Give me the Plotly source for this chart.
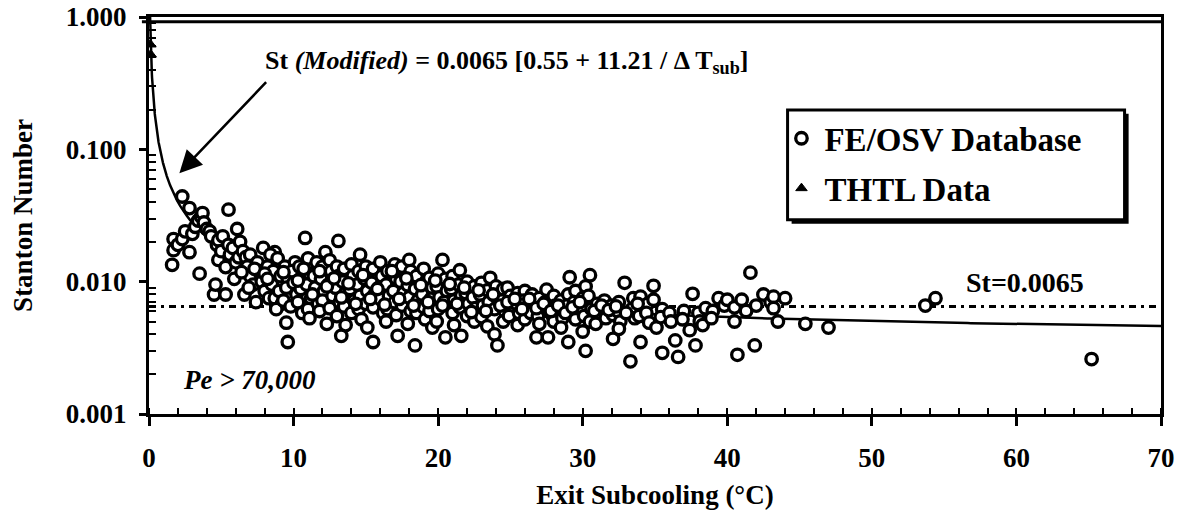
import numpy as np
import plotly.graph_objects as go

# ---------------- data ----------------
# FE/OSV Database (Exit subcooling in degC, Stanton number)
fe_x_a = [
    1.6, 1.7, 1.7, 2.0, 2.3, 2.3, 2.5, 2.8, 2.8, 3.0,
    3.2, 3.4, 3.5, 3.6, 3.7, 3.8, 4.0, 4.2, 4.3, 4.5,
    4.6, 4.7, 4.8, 4.8, 5.0, 5.1, 5.3, 5.3, 5.5, 5.5,
    5.6, 5.8, 6.0, 6.1, 6.2, 6.3, 6.5, 6.6, 6.7, 6.8,
    7.0, 7.0, 7.2, 7.4, 7.5, 7.6, 7.8, 7.9, 8.0, 8.2,
    8.3, 8.7,
]
fe_y_a = [
    0.0134, 0.021, 0.0173, 0.019, 0.044, 0.021, 0.024, 0.036, 0.0167, 0.023,
    0.026, 0.029, 0.0115, 0.031, 0.033, 0.028, 0.025, 0.024, 0.022, 0.0080,
    0.0095, 0.019, 0.0206, 0.0146, 0.017, 0.022, 0.0129, 0.0080, 0.035, 0.019,
    0.016, 0.018, 0.014, 0.025, 0.0153, 0.020, 0.017, 0.0080, 0.0153, 0.013,
    0.016, 0.011, 0.0095, 0.0070, 0.014, 0.012, 0.010, 0.018, 0.0085, 0.013,
    0.0075, 0.0167,
]

fe_x_b = [
    8.4, 8.6, 8.5, 8.7,
    8.9, 9.1, 9.0, 9.2, 8.8,
    9.4, 9.6, 9.5, 9.3, 9.5, 9.6,
    10.1, 9.9, 10.0, 10.2, 9.8,
    10.4, 10.6, 10.5, 10.3, 10.6, 10.8,
    11.0, 11.1, 10.9, 11.2, 11.0, 11.1,
    11.6, 11.4, 11.5, 11.7,
    12.0, 11.9, 12.1, 12.0, 11.8, 12.2, 12.3,
    12.5, 12.6, 12.4, 12.7, 12.5,
    13.0, 13.1, 12.9, 13.2, 13.0, 13.1, 13.3,
    13.5, 13.4, 13.6, 13.5, 13.6,
    14.0, 14.1, 13.9, 14.2, 14.0,
]
fe_y_b = [
    0.016, 0.012, 0.0095, 0.0075,
    0.015, 0.011, 0.0085, 0.0068, 0.0062,
    0.013, 0.0105, 0.0090, 0.0072, 0.0049, 0.0035,
    0.014, 0.012, 0.0098, 0.0080, 0.0065,
    0.013, 0.011, 0.0088, 0.0070, 0.0058, 0.0214,
    0.015, 0.0115, 0.0095, 0.0075, 0.0062, 0.0053,
    0.014, 0.011, 0.0090, 0.0068,
    0.013, 0.0105, 0.0085, 0.0072, 0.0060, 0.0167, 0.0048,
    0.0145, 0.012, 0.0095, 0.0078, 0.0063,
    0.013, 0.011, 0.0090, 0.0070, 0.0055, 0.0203, 0.0039,
    0.0125, 0.0100, 0.0082, 0.0065, 0.0047,
    0.0135, 0.011, 0.0088, 0.0072, 0.0058,
]

fe_x_c = [
    14.6, 14.5, 14.4, 14.6, 14.5, 14.7,
    15.0, 14.9, 15.1, 15.0, 15.1,
    15.5, 15.4, 15.6, 15.5, 15.5,
    16.0, 16.1, 15.9, 16.0, 16.2,
    16.5, 16.4, 16.6, 16.5, 16.4,
    17.0, 17.1, 16.9, 17.0, 17.1,
    17.5, 17.4, 17.6, 17.5, 17.2,
    18.0, 18.1, 17.9, 18.0, 18.1, 17.9,
    18.5, 18.4, 18.6, 18.5, 18.4,
    19.0, 19.1, 18.9, 19.0, 19.1,
    19.4, 19.6, 19.5, 19.4, 19.6,
    20.0, 19.9, 20.1, 20.0, 19.9,
    20.3, 20.5, 20.6, 20.4, 20.5,
    21.0, 20.9, 21.1, 21.0, 21.1,
    21.5, 21.4, 21.6, 21.5, 21.6,
    22.0, 21.9, 22.1, 22.0,
    22.5, 22.4, 22.6, 22.5,
    23.0, 22.9, 23.1, 23.0,
    23.6, 23.4, 23.5, 23.4,
    24.0, 24.1, 23.9, 23.9, 24.1,
    24.5, 24.4, 24.6, 24.5,
    24.8, 25.0, 25.1, 24.9,
    25.5, 25.4, 25.6, 25.5,
    26.0, 25.9, 26.1, 26.0,
]
fe_y_c = [
    0.016, 0.012, 0.0095, 0.0078, 0.0062, 0.0052,
    0.013, 0.0105, 0.0085, 0.0068, 0.0045,
    0.0125, 0.0098, 0.0080, 0.0064, 0.0035,
    0.014, 0.011, 0.0090, 0.0074, 0.0058,
    0.012, 0.0095, 0.0078, 0.0062, 0.0050,
    0.0135, 0.0105, 0.0085, 0.0070, 0.0056,
    0.013, 0.0100, 0.0082, 0.0066, 0.0039,
    0.0146, 0.012, 0.0094, 0.0076, 0.0060, 0.0048,
    0.011, 0.0088, 0.0072, 0.0058, 0.0033,
    0.0125, 0.0098, 0.0080, 0.0064, 0.0052,
    0.0107, 0.0090, 0.0074, 0.0060, 0.0045,
    0.0115, 0.0092, 0.0076, 0.0062, 0.0050,
    0.0146, 0.0105, 0.0085, 0.0070, 0.0038,
    0.011, 0.0088, 0.0072, 0.0058, 0.0047,
    0.0122, 0.0095, 0.0078, 0.0064, 0.0039,
    0.0100, 0.0082, 0.0068, 0.0055,
    0.0092, 0.0076, 0.0063, 0.0050,
    0.0098, 0.0080, 0.0066, 0.0054,
    0.0107, 0.0086, 0.0070, 0.0046,
    0.0092, 0.0075, 0.0062, 0.0040, 0.0033,
    0.0088, 0.0072, 0.0060, 0.0050,
    0.0090, 0.0078, 0.0065, 0.0055,
    0.0082, 0.0068, 0.0058, 0.0047,
    0.0085, 0.0072, 0.0062, 0.0052,
]

fe_x_d = [
    26.5, 26.6, 26.4, 26.8,
    27.0, 27.1, 26.9, 27.0,
    27.5, 27.4, 27.6, 27.6,
    28.0, 28.1, 27.9, 28.0,
    28.5, 28.4, 28.6, 28.5,
    29.1, 29.0, 28.9, 29.0,
    29.5, 29.4, 29.6, 29.5,
    30.2, 30.0, 29.9, 30.1, 30.0, 30.2,
    30.5, 30.4, 30.6, 30.5,
    31.0, 31.1, 30.9,
    31.5, 31.4, 31.6,
    32.0, 32.1, 32.1,
    32.5, 32.4, 32.6, 32.5,
    32.9, 33.3,
    33.5, 33.4, 33.6,
    34.0, 34.1, 33.9, 34.0,
    34.5, 34.4, 34.6,
    34.9, 34.9, 35.1,
    35.5, 35.4, 35.5,
    36.0, 36.1, 36.4, 36.6,
    37.0, 36.9, 37.4, 37.6, 37.8,
    38.0, 38.1, 38.3, 38.5,
    39.0, 38.9, 39.4, 39.8,
]
fe_y_d = [
    0.0080, 0.0068, 0.0058, 0.0038,
    0.0075, 0.0064, 0.0055, 0.0048,
    0.0087, 0.0070, 0.0060, 0.0038,
    0.0078, 0.0066, 0.0056, 0.0050,
    0.0072, 0.0062, 0.0053, 0.0045,
    0.0108, 0.0080, 0.0066, 0.0035,
    0.0085, 0.0070, 0.0060, 0.0052,
    0.0092, 0.0075, 0.0064, 0.0055, 0.0042, 0.0030,
    0.0112, 0.0078, 0.0062, 0.0050,
    0.0068, 0.0058, 0.0048,
    0.0072, 0.0062, 0.0053,
    0.0066, 0.0056, 0.0037,
    0.0070, 0.0060, 0.0050, 0.0044,
    0.0098, 0.0025,
    0.0075, 0.0062, 0.0053,
    0.0077, 0.0064, 0.0055, 0.0035,
    0.0068, 0.0058, 0.0049,
    0.0093, 0.0073, 0.0045,
    0.0062, 0.0054, 0.0029,
    0.0058, 0.0050, 0.0036, 0.0027,
    0.0060, 0.0052, 0.0043, 0.0081, 0.0033,
    0.0058, 0.0050, 0.0047, 0.0063,
    0.0060, 0.0053, 0.0075, 0.0066,
]

fe_x_e = [40.0, 40.5, 40.5, 40.7, 41.0, 41.3, 41.6, 41.9, 42.0, 42.5,
          43.0, 43.2, 43.2, 43.5, 44.0, 45.4, 47.0, 53.7, 54.4, 65.2]
fe_y_e = [0.0073, 0.0064, 0.0050, 0.0028, 0.0073, 0.0060, 0.0117, 0.0033, 0.0066, 0.0080,
          0.0070, 0.0077, 0.0063, 0.0050, 0.0075, 0.0048, 0.0045, 0.0066, 0.0075, 0.0026]

# extra points inside the dense band
fe_x_f = [
    5.9, 6.4, 6.9, 7.3, 8.0, 8.2, 9.3, 10.3, 10.7, 11.3,
    11.8, 12.3, 12.8, 13.3, 13.8, 14.3, 14.8, 15.3, 15.8, 16.3,
    16.8, 17.3, 17.8, 18.3, 18.8, 19.3, 19.8, 20.3, 20.8, 21.3,
    21.8, 22.3, 22.8, 23.3, 23.8, 24.3, 24.8, 25.3, 25.8, 26.3,
    26.8, 27.3, 27.8, 28.3, 28.8, 29.3, 29.8, 30.8, 31.3, 31.8,
    32.3, 33.0, 33.8,
]
fe_y_f = [
    0.0105, 0.0118, 0.0090, 0.0125, 0.0115, 0.0105, 0.0118, 0.0102, 0.0125, 0.0080,
    0.0120, 0.0092, 0.0106, 0.0076, 0.0097, 0.0068, 0.0112, 0.0074, 0.0088, 0.0067,
    0.0120, 0.0074, 0.0106, 0.0066, 0.0094, 0.0070, 0.0102, 0.0066, 0.0096, 0.0068,
    0.0090, 0.0059, 0.0086, 0.0060, 0.0080, 0.0066, 0.0070, 0.0074, 0.0062, 0.0074,
    0.0063, 0.0068, 0.0060, 0.0066, 0.0058, 0.0064, 0.0070, 0.0060, 0.0066, 0.0061,
    0.0065, 0.0058, 0.0068,
]

# THTL Data
thtl_x = [0.10, 0.12]
thtl_y = [0.62, 0.52]

# Correlation: St(Modified) = 0.0065 [0.55 + 11.21 / dTsub]
corr_c = 0.0065
corr_a = 0.55
corr_b = 11.21
st_const = 0.0065

x_tick_vals = [0, 10, 20, 30, 40, 50, 60, 70]
y_tick_vals = [0.001, 0.01, 0.1, 1.0]
y_tick_text = ["0.001", "0.010", "0.100", "1.000"]

# ---------------- figure ----------------
FONT = "Liberation Serif"
fe_x = fe_x_a + fe_x_b + fe_x_c + fe_x_d + fe_x_e + fe_x_f
fe_y = fe_y_a + fe_y_b + fe_y_c + fe_y_d + fe_y_e + fe_y_f
assert len(fe_x) == len(fe_y)

curve_x = np.concatenate([np.linspace(0.07, 1.0, 80), np.linspace(1.0, 70.0, 300)])
curve_y = corr_c * (corr_a + corr_b / curve_x)

fig = go.Figure()
fig.add_trace(go.Scatter(x=[0, 70], y=[st_const, st_const], mode="lines",
                         line=dict(color="black", width=3, dash="7px,5px,3px,5px"),
                         showlegend=False, hoverinfo="skip"))
fig.add_trace(go.Scatter(x=curve_x, y=curve_y, mode="lines",
                         line=dict(color="black", width=2.5),
                         showlegend=False, hoverinfo="skip"))
fig.add_trace(go.Scatter(x=fe_x, y=fe_y, mode="markers", name="FE/OSV Database",
                         legendgroup="a",
                         marker=dict(symbol="circle", size=11.5, color="white",
                                     line=dict(color="black", width=3.3))))
fig.add_trace(go.Scatter(x=thtl_x, y=thtl_y, mode="markers", name="THTL Data",
                         legendgroup="b",
                         marker=dict(symbol="triangle-up", size=10, color="black",
                                     line=dict(color="black", width=1))))

tickfont = dict(family=FONT, size=27, color="black", weight="bold")

fig.update_xaxes(range=[0, 70], tickvals=x_tick_vals, ticks="outside", ticklen=9,
                 tickwidth=2.5, tickcolor="black", showline=True, linewidth=3,
                 linecolor="black", mirror=True, showgrid=False, zeroline=False,
                 tickfont=tickfont, ticklabelstandoff=9, automargin=False,
                 ticklabeloverflow="allow",
                 minor=dict(dtick=2, ticks="inside", ticklen=6, tickwidth=2,
                            tickcolor="black", showgrid=False),
                 title=dict(text="<b>Exit Subcooling (°C)</b>",
                            font=dict(family=FONT, size=27, color="black"),
                            standoff=13))

minor_y = [m * d for d in [0.001, 0.01, 0.1] for m in range(2, 10)]
fig.update_yaxes(type="log", range=[-3, 0], tickvals=y_tick_vals, ticktext=y_tick_text,
                 ticks="outside", ticklen=7, tickwidth=2.5, tickcolor="black",
                 showline=True, linewidth=3, linecolor="black", mirror=True,
                 showgrid=False, zeroline=False, tickfont=tickfont, ticklabelstandoff=7,
                 automargin=False, ticklabeloverflow="allow",
                 minor=dict(tickvals=minor_y, ticks="inside", ticklen=7, tickwidth=2,
                            tickcolor="black", showgrid=False),
                 title=dict(text="<b>Stanton Number</b>",
                            font=dict(family=FONT, size=27, color="black"),
                            standoff=32))

# arrow and texts
arrow_head_x, arrow_head_y = 2.1, 0.066
arrow_tail_x, arrow_tail_y = 8.2, 0.33
fig.add_annotation(x=arrow_head_x, y=np.log10(arrow_head_y), ax=arrow_tail_x,
                   ay=np.log10(arrow_tail_y), axref="x", ayref="y", xref="x", yref="y",
                   text="", showarrow=True, arrowhead=2, arrowsize=1.8, arrowwidth=2.5,
                   arrowcolor="black")
fig.add_annotation(x=7.9, y=np.log10(0.457), xref="x", yref="y", xanchor="left",
                   yanchor="middle", showarrow=False,
                   text="<b>St <i>(Modified)</i> = 0.0065 [0.55 + 11.21 / Δ T<sub>sub</sub>]</b>",
                   font=dict(family=FONT, size=26, color="black"))
fig.add_annotation(x=60.6, y=np.log10(0.0098), xref="x", yref="y", xanchor="center",
                   yanchor="middle", showarrow=False, text="<b>St=0.0065</b>",
                   font=dict(family=FONT, size=28, color="black"))
fig.add_annotation(x=2.2, y=np.log10(0.0018), xref="x", yref="y", xanchor="left",
                   yanchor="middle", showarrow=False, text="<b><i>Pe &gt; 70,000</i></b>",
                   font=dict(family=FONT, size=27, color="black"))

# top frame line (a shape just under the top edge, where it renders reliably)
fig.add_shape(type="line", xref="paper", yref="paper", layer="above",
              x0=-0.007, x1=1.0, y0=0.988, y1=0.988, line=dict(color="black", width=3))

# legend frame with drop shadow (paper coordinates of the plot area)
box_x0, box_x1, box_y0, box_y1 = 0.631, 0.964, 0.489, 0.766
shadow_dx, shadow_dy = 0.004, 0.010
fig.add_shape(type="rect", xref="paper", yref="paper", layer="above",
              x0=box_x0 + shadow_dx, x1=box_x1 + shadow_dx,
              y0=box_y0 - shadow_dy, y1=box_y1 - shadow_dy,
              fillcolor="black", line=dict(color="black", width=0))
fig.add_shape(type="rect", xref="paper", yref="paper", layer="above",
              x0=box_x0, x1=box_x1, y0=box_y0, y1=box_y1,
              fillcolor="white", line=dict(color="black", width=3))

fig.update_layout(
    width=1177, height=508,
    margin=dict(l=141, r=24, t=9, b=102),
    paper_bgcolor="white", plot_bgcolor="white",
    showlegend=True,
    legend=dict(x=0.622, y=0.765, xanchor="left", yanchor="top",
                bgcolor="rgba(0,0,0,0)", borderwidth=0,
                font=dict(family=FONT, size=33, color="black", weight="bold"),
                tracegroupgap=4, itemwidth=36),
)

fig.write_html("out.html", config={"displayModeBar": False})
